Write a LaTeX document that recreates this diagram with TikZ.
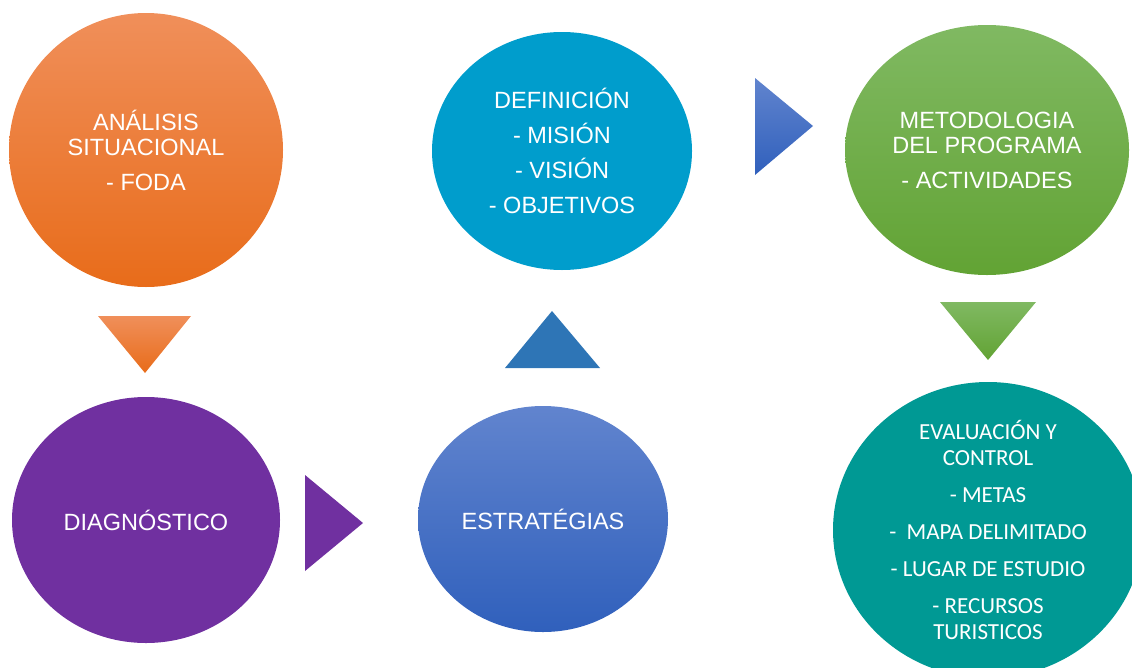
\documentclass[tikz,border=0pt]{standalone}
\usepackage{fontspec}
\setmainfont{Liberation Sans}
\newfontfamily\calib{Carlito}
\usetikzlibrary{shapes.geometric}
\definecolor{orangetop}{RGB}{240,143,90}
\definecolor{orangemid}{RGB}{242,125,40}
\definecolor{orangebot}{RGB}{232,108,26}
\definecolor{cyanblue}{RGB}{0,157,204}
\definecolor{bluetop}{RGB}{97,132,206}
\definecolor{bluebot}{RGB}{48,96,188}
\definecolor{steelblue}{RGB}{46,117,182}
\definecolor{greentop}{RGB}{128,185,98}
\definecolor{greenbot}{RGB}{98,163,52}
\definecolor{mypurple}{RGB}{112,48,160}
\definecolor{myteal}{RGB}{0,153,148}
\tikzset{
    every node/.style={text=white, align=center},
    bub/.style={ellipse, inner sep=0pt, font=\fontsize{23.5}{25}\selectfont},
    tbub/.style={ellipse, inner xsep=0pt, inner ysep=-12pt, font=\calib\fontsize{23}{26}\selectfont},
    orng/.style={top color=orangetop, middle color=orangemid, bottom color=orangebot},
    blu/.style={top color=bluetop, bottom color=bluebot},
    grn/.style={top color=greentop, bottom color=greenbot}
}

\begin{document}
\begin{tikzpicture}[x=1pt, y=-1pt]
\useasboundingbox (0,0) rectangle (1132,667);

\node[bub, orng, minimum width=274, minimum height=274] at (146,150) (ana)
    {ANÁLISIS\\SITUACIONAL\\[10pt]- FODA};
\node[bub, fill=cyanblue, minimum width=260, minimum height=238] at (562,151) (def)
    {DEFINICIÓN\\[10pt]- MISIÓN\\[10pt]- VISIÓN\\[10pt]- OBJETIVOS};
\node[bub, grn, minimum width=284, minimum height=250] at (987,150) (met)
    {METODOLOGIA\\DEL PROGRAMA\\[10pt]- ACTIVIDADES};

\node[bub, fill=mypurple, minimum width=268, minimum height=246] at (146,520) (dia)
    {DIAGNÓSTICO};
\node[bub, blu, minimum width=250, minimum height=226] at (543,519) (est)
    {ESTRATÉGIAS};
\node[tbub, fill=myteal, minimum width=310, minimum height=296] at (988,530) (eva)
    {EVALUACIÓN Y\\CONTROL\\[11pt]- METAS\\[11pt]-\ \ MAPA DELIMITADO\\[11pt]- LUGAR DE ESTUDIO\\[11pt]- RECURSOS\\TURISTICOS};

% arrows
\shade[orng] (98,316) -- (191,316) -- (145,373) -- cycle;
\fill[steelblue] (505,368) -- (600,368) -- (552,311) -- cycle;
\shade[blu] (755,78) -- (755,175) -- (813,126) -- cycle;
\shade[grn] (940,302) -- (1036,302) -- (988,360) -- cycle;
\fill[mypurple] (305,475) -- (305,571) -- (363,523) -- cycle;
\end{tikzpicture}
\end{document}
